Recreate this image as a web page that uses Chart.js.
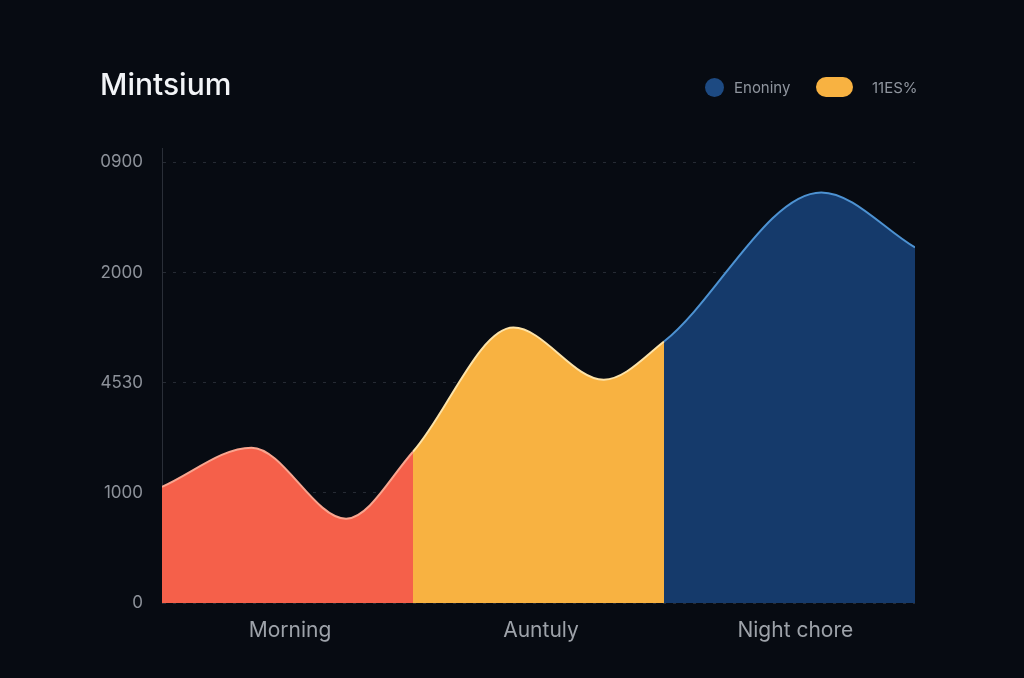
<!DOCTYPE html>
<html>
<head>
<meta charset="utf-8">
<script src="https://cdn.jsdelivr.net/npm/chart.js@4.4.1/dist/chart.umd.min.js"></script>
<style>
  html, body { margin: 0; padding: 0; background: #070b12; }
  #wrap { position: relative; width: 1024px; height: 678px; background: #070b12; overflow: hidden; }
  #title { position: absolute; left: 100px; top: 66px; font-family: Inter, Roboto, "DejaVu Sans", sans-serif; font-size: 30px; font-weight: 500; color: #f2f4f7; letter-spacing: 0px; }
  .leg { position: absolute; font-family: Inter, Roboto, "DejaVu Sans", sans-serif; font-size: 15px; color: #8f959e; top: 78px; }
  .dot { position: absolute; left: 705px; top: 78px; width: 19px; height: 19px; border-radius: 50%; background: #1d4a82; }
  .pill { position: absolute; left: 816px; top: 77px; width: 37px; height: 20px; border-radius: 10px; background: #f8b241; }
  canvas { position: absolute; left: 0; top: 0; }
</style>
</head>
<body>
<div id="wrap">
  <canvas id="c" width="1024" height="678"></canvas>
  <div id="title">Mintsium</div>
  <div class="dot"></div>
  <div class="leg" style="left:734px;">Enoniny</div>
  <div class="pill"></div>
  <div class="leg" style="left:872px;">11ES%</div>
</div>
<script>
const categories = ['Morning', 'Auntuly', 'Night chore'];
const categoryCenters = [1.53, 4.53, 7.57];
const pointX = [0, 1.07, 2.2, 3, 4.2, 5.28, 6, 7.88, 9];
const pointValues = [1055, 1410, 765, 1373, 2500, 2027, 2373, 3727, 3227];
const segmentEnds = [3, 6, 8];
const fillColors = ['#f5604a', '#f8b241', '#153a6b'];
const edgeColors = ['#f9a58f', '#fde3a8', '#4d92d2'];
const yTickValues = [0, 1000, 2000, 3000, 4000];
const yTickLabels = ['0', '1000', '4530', '2000', '0900'];

const points = pointX.map((x, i) => ({ x: x, y: pointValues[i] }));
function segIdx(i) {
  for (let k = 0; k < segmentEnds.length; k++) if (i < segmentEnds[k]) return k;
  return segmentEnds.length - 1;
}

new Chart(document.getElementById('c'), {
  type: 'line',
  data: {
    datasets: [{
      data: points,
      fill: 'origin',
      backgroundColor: fillColors[0],
      borderColor: edgeColors[0],
      borderWidth: 2,
      pointRadius: 0,
      cubicInterpolationMode: 'monotone',
      segment: {
        backgroundColor: ctx => fillColors[segIdx(ctx.p0DataIndex)],
        borderColor: ctx => edgeColors[segIdx(ctx.p0DataIndex)]
      }
    }]
  },
  options: {
    responsive: false,
    animation: false,
    layout: { padding: { left: 0, right: 109, top: 148, bottom: 0 } },
    plugins: { legend: { display: false }, title: { display: false }, tooltip: { enabled: false } },
    scales: {
      x: {
        type: 'linear',
        min: 0, max: 9,
        afterBuildTicks: s => { s.ticks = categoryCenters.map(v => ({ value: v })); },
        afterFit: s => { s.height = 75; },
        grid: { display: false, drawTicks: false },
        border: { display: false },
        ticks: {
          padding: 15,
          color: '#9da2a9',
          font: { family: 'Inter, Roboto, sans-serif', size: 21 },
          callback: (v) => { const i = categoryCenters.indexOf(v); return i >= 0 ? categories[i] : ''; }
        }
      },
      y: {
        min: 0, max: 4130,
        afterBuildTicks: s => { s.ticks = yTickValues.map(v => ({ value: v })); },
        afterFit: s => { s.width = 162; },
        grid: { color: '#262b34', lineWidth: 1, drawTicks: false },
        border: { display: true, color: '#2a2f38', width: 1, dash: [3, 7] },
        ticks: {
          padding: 19,
          color: '#8d929a',
          font: { family: 'Inter, Roboto, sans-serif', size: 17 },
          callback: (v) => { const i = yTickValues.indexOf(v); return i >= 0 ? yTickLabels[i] : ''; }
        }
      }
    }
  }
});
</script>
</body>
</html>
